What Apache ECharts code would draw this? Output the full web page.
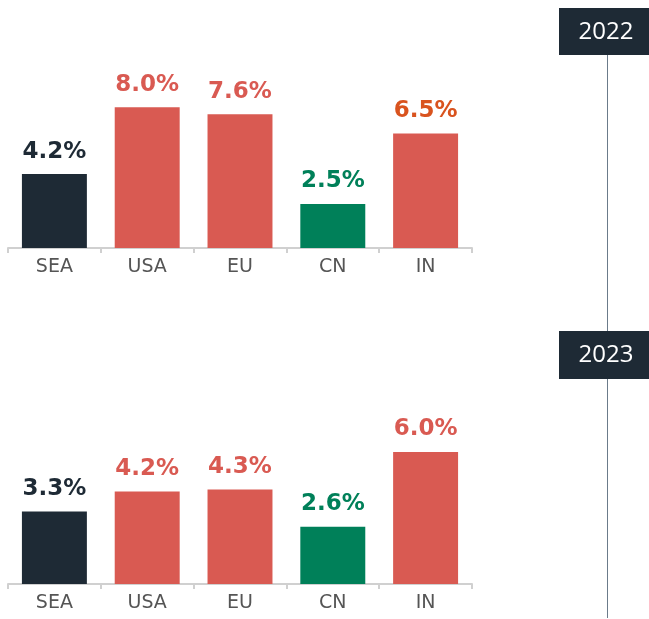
<!DOCTYPE html>
<html>
<head>
<meta charset="utf-8">
<script src="https://cdn.jsdelivr.net/npm/echarts@6/dist/echarts.min.js"></script>
<style>
html, body { margin: 0; padding: 0; background: #fff; }
#chart { width: 649px; height: 619px; }
</style>
</head>
<body>
<div id="chart"></div>
<script>
var categories = ['SEA', 'USA', 'EU', 'CN', 'IN'];
var years = ['2022', '2023'];
var values2022 = [4.2, 8.0, 7.6, 2.5, 6.5];
var values2023 = [3.3, 4.2, 4.3, 2.6, 6.0];
var barColors = ['#1e2a35', '#d95a52', '#d95a52', '#008059', '#d95a52'];
var labelColors2022 = ['#1e2a35', '#d95a52', '#d95a52', '#008059', '#d9531e'];
var labelColors2023 = ['#1e2a35', '#d95a52', '#d95a52', '#008059', '#d95a52'];

window.onload = function () {
    var chart = echarts.init(document.getElementById('chart'));

    function build_data(values, labelColors) {
        return values.map(function (v, i) {
            return {
                value: v,
                itemStyle: { color: barColors[i] },
                label: { color: labelColors[i] }
            };
        });
    }

    function x_axis(idx) {
        return {
            type: 'category',
            gridIndex: idx,
            data: categories,
            axisLine: { lineStyle: { color: '#d0d0d0', width: 2 } },
            axisTick: { show: true, length: 5, lineStyle: { color: '#d0d0d0', width: 2 } },
            axisLabel: { color: '#555555', fontSize: 19, fontFamily: 'DejaVu Sans', margin: 10 }
        };
    }

    function y_axis(idx, max) {
        return {
            type: 'value', gridIndex: idx, min: 0, max: max,
            show: false, splitLine: { show: false }
        };
    }

    var barLabel = {
        show: true,
        position: 'top',
        distance: 11,
        fontFamily: 'DejaVu Sans',
        fontWeight: 'bold',
        fontSize: 23,
        formatter: function (p) { return p.value.toFixed(1) + '%'; }
    };

    var option = {
        animation: false,
        grid: [
            { left: 8, width: 464, top: 72, height: 176 },
            { left: 8, width: 464, top: 408, height: 176 }
        ],
        xAxis: [x_axis(0), x_axis(1)],
        yAxis: [y_axis(0, 10), y_axis(1, 8)],
        series: [
            {
                type: 'bar', xAxisIndex: 0, yAxisIndex: 0, barWidth: '70%',
                label: barLabel,
                data: build_data(values2022, labelColors2022)
            },
            {
                type: 'bar', xAxisIndex: 1, yAxisIndex: 1, barWidth: '70%',
                label: barLabel,
                data: build_data(values2023, labelColors2023)
            }
        ],
        graphic: [
            // timeline line
            { type: 'line', shape: { x1: 607.5, y1: 55, x2: 607.5, y2: 618 }, style: { stroke: '#6b7b8a', lineWidth: 1 } },
            { type: 'rect', shape: { x: 559, y: 8, width: 90, height: 47 }, style: { fill: '#1e2a35' } },
            { type: 'text', x: 606, y: 32, style: { text: years[0], fill: '#ffffff', font: '24px "Open Sans"', align: 'center', verticalAlign: 'middle' } },
            { type: 'rect', shape: { x: 559, y: 331, width: 90, height: 48 }, style: { fill: '#1e2a35' } },
            { type: 'text', x: 606, y: 355, style: { text: years[1], fill: '#ffffff', font: '24px "Open Sans"', align: 'center', verticalAlign: 'middle' } }
        ]
    };

    chart.setOption(option);
};
</script>
</body>
</html>
